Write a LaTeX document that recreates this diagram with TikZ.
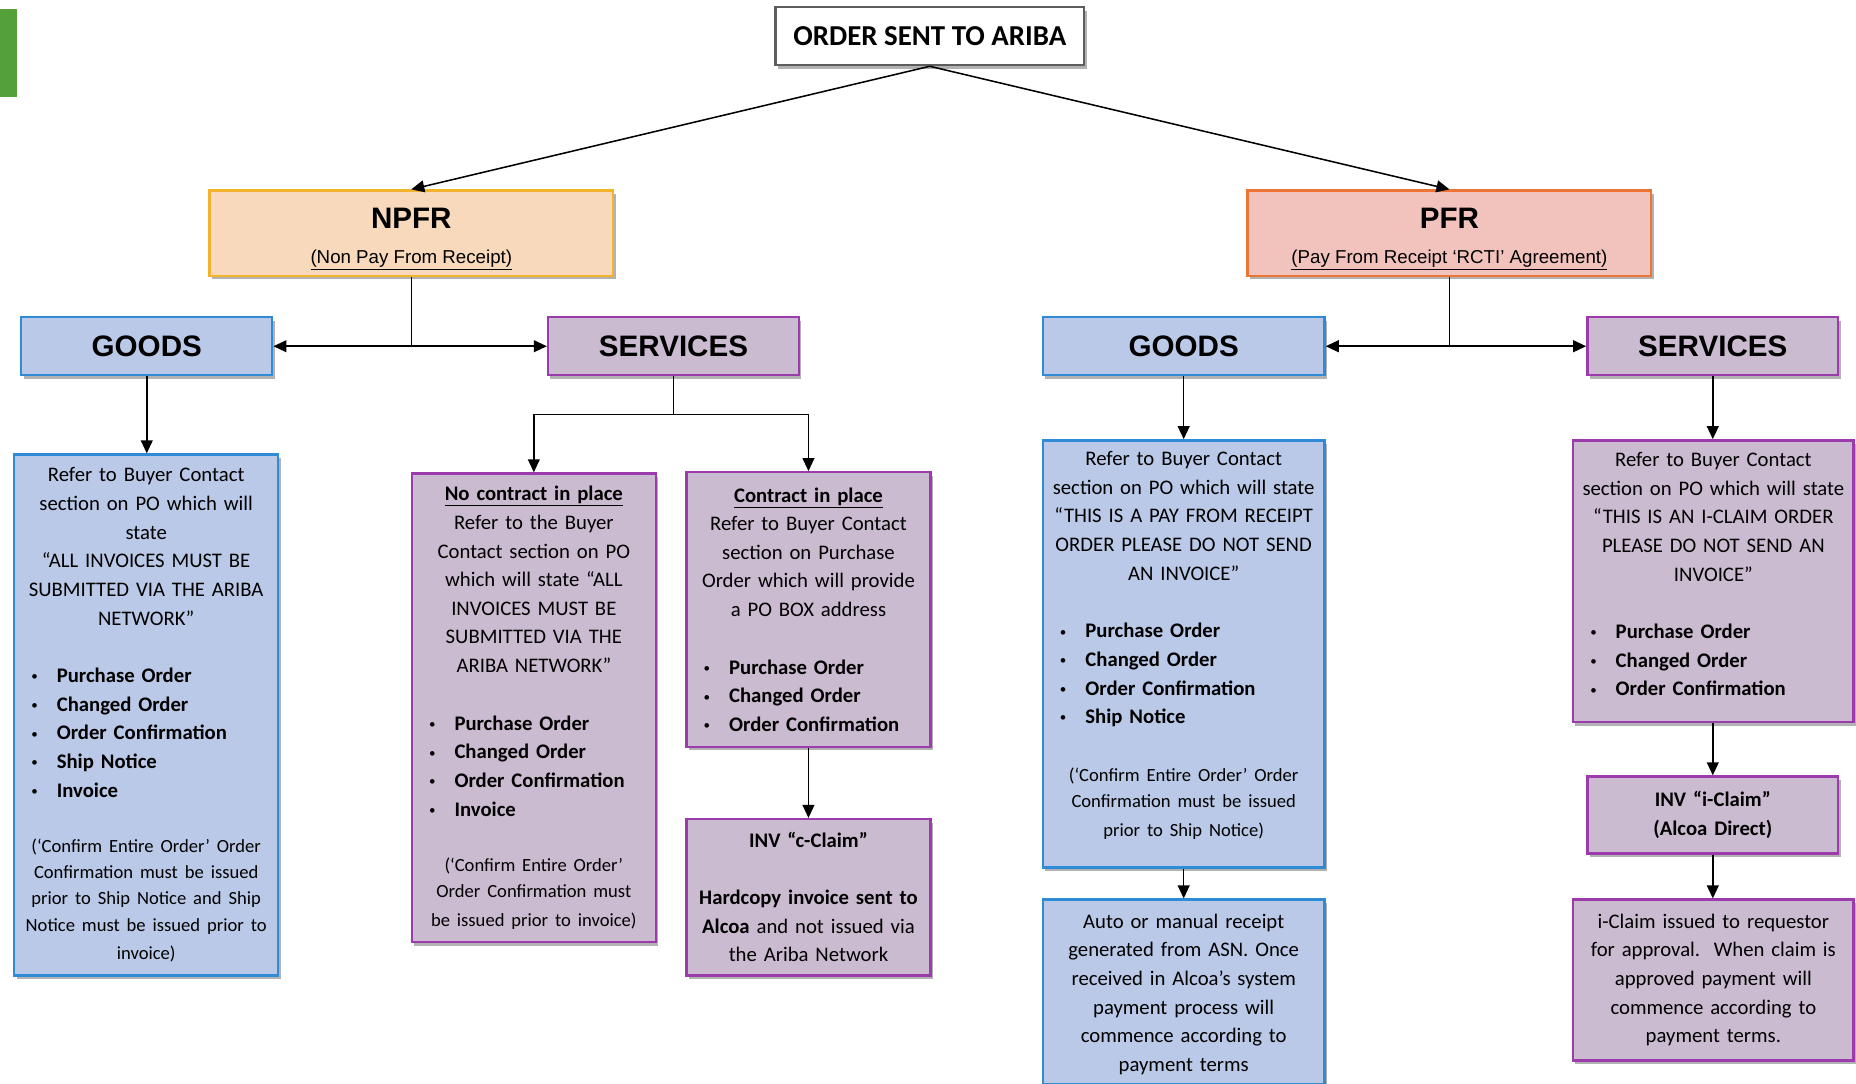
\documentclass[tikz,border=0pt]{standalone}
\usepackage{fontspec}
\setmainfont{Carlito}
\newfontfamily\headfont{Liberation Sans}
\usepackage{tikz}
\usetikzlibrary{arrows.meta,positioning,shadows,calc}

\definecolor{barGreen}{HTML}{54A03A}
\definecolor{npfrFill}{HTML}{F8D9BC}
\definecolor{npfrLine}{HTML}{F2B22E}
\definecolor{pfrFill}{HTML}{F2C3BC}
\definecolor{pfrLine}{HTML}{EC7434}
\definecolor{goodsFill}{HTML}{BAC9E7}
\definecolor{goodsLine}{HTML}{2F8BD6}
\definecolor{servFill}{HTML}{CBBBD0}
\definecolor{servLine}{HTML}{9B3BAC}
\definecolor{topLine}{HTML}{5E5E5E}

\newcommand{\bodytxt}{\fontsize{17.5}{24.2}\selectfont}
\newcommand{\smalltxt}{\fontsize{15.7}{22}\selectfont}
\newcommand{\itm}[1]{\makebox[\linewidth][l]{\hspace*{14.5pt}\makebox[21.5pt][l]{\raisebox{1.5pt}{\fontsize{11}{11}\selectfont\textbullet}}\textbf{#1}}}

\tikzset{
  box/.style={rectangle, draw, line width=2pt, inner sep=0pt, align=center,
    drop shadow={shadow xshift=2pt, shadow yshift=-3pt, fill=black, opacity=0.3}},
  goodsbox/.style={box, draw=goodsLine, fill=goodsFill},
  servbox/.style={box, draw=servLine, fill=servFill},
  headtxt/.style={font=\headfont\bfseries\fontsize{25}{30}\selectfont},
  link/.style={line width=1.3pt},
  arr/.style={link, -{Triangle[length=11pt,width=10pt]}},
}

\begin{document}
\begin{tikzpicture}[x=1pt, y=-1pt, font=\bodytxt]
  \useasboundingbox (0,0) rectangle (1568,915);
  \fill[barGreen] (0,7.6) rectangle (14.4,82);

  \node[box, draw=topLine, fill=white, minimum width=261pt, minimum height=49pt,
        font=\bfseries\fontsize{24.4}{29}\selectfont] (ariba) at (785.5,30.5) {ORDER SENT TO ARIBA};

  \node[box, draw=npfrLine, fill=npfrFill, minimum width=341pt, minimum height=72pt,
        font=\headfont\fontsize{15.8}{19}\selectfont] (npfr) at (347.5,197)
        {{\bfseries\fontsize{25}{30}\selectfont\rule{0pt}{27pt}NPFR}\\[10.5pt]\underline{(Non Pay From Receipt)}};
  \node[box, draw=pfrLine, fill=pfrFill, minimum width=341pt, minimum height=72pt,
        font=\headfont\fontsize{15.8}{19}\selectfont] (pfr) at (1224.5,197)
        {{\bfseries\fontsize{25}{30}\selectfont\rule{0pt}{27pt}PFR}\\[10.5pt]\underline{(Pay From Receipt ‘RCTI’ Agreement)}};

  \node[goodsbox, headtxt, minimum width=212pt, minimum height=49pt] (goodsL) at (124,292.5) {GOODS};
  \node[servbox, headtxt, minimum width=212pt, minimum height=49pt] (servL) at (569,292.5) {SERVICES};
  \node[goodsbox, headtxt, minimum width=238pt, minimum height=49pt] (goodsR) at (1000,292.5) {GOODS};
  \node[servbox, headtxt, minimum width=212pt, minimum height=49pt] (servR) at (1447,292.5) {SERVICES};

  % NPFR side
  \node[goodsbox, text width=223pt, minimum height=440pt] (goodsLtxt) at (123.5,604)
    {Refer to Buyer Contact\\
     section on PO which will\\
     state\\
     “ALL INVOICES MUST BE\\
     SUBMITTED VIA THE ARIBA\\
     NETWORK”\\[24.5pt]
     \itm{Purchase Order}\\
     \itm{Changed Order}\\
     \itm{Order Confirmation}\\
     \itm{Ship Notice}\\
     \itm{Invoice}\\[25pt]
     \smalltxt (‘Confirm Entire Order’ Order\\
     Confirmation must be issued\\
     prior to Ship Notice and Ship\\
     Notice must be issued prior to\\
     invoice)};
  \node[servbox, text width=206pt, minimum height=396pt] (nocon) at (451,598)
    {\textbf{\underline{No contract in place}}\\
     Refer to the Buyer\\
     Contact section on PO\\
     which will state “ALL\\
     INVOICES MUST BE\\
     SUBMITTED VIA THE\\
     ARIBA NETWORK”\\[24.5pt]
     \itm{Purchase Order}\\
     \itm{Changed Order}\\
     \itm{Order Confirmation}\\
     \itm{Invoice}\\[25pt]
     \smalltxt (‘Confirm Entire Order’\\
     Order Confirmation must\\
     be issued prior to invoice)};
  \node[servbox, text width=206pt, minimum height=232pt] (con) at (683,515)
    {\textbf{\underline{Contract in place}}\\
     Refer to Buyer Contact\\
     section on Purchase\\
     Order which will provide\\
     a PO BOX address\\[24.5pt]
     \itm{Purchase Order}\\
     \itm{Changed Order}\\
     \itm{Order Confirmation}};
  \node[servbox, text width=206pt, minimum height=132pt] (cClaim) at (683,758)
    {\textbf{INV “c-Claim”}\\[24pt]
     \textbf{Hardcopy invoice sent to}\\
     \textbf{Alcoa} and not issued via\\
     the Ariba Network};

  % PFR side
  \node[goodsbox, text width=238pt, minimum height=361pt] (goodsRtxt) at (1000,552.5)
    {Refer to Buyer Contact\\
     section on PO which will state\\
     “THIS IS A PAY FROM RECEIPT\\
     ORDER PLEASE DO NOT SEND\\
     AN INVOICE”\\[24.5pt]
     \itm{Purchase Order}\\
     \itm{Changed Order}\\
     \itm{Order Confirmation}\\
     \itm{Ship Notice}\\[27pt]
     \smalltxt (‘Confirm Entire Order’ Order\\
     Confirmation must be issued\\
     prior to Ship Notice)\rule[-17pt]{0pt}{0pt}};
  \node[goodsbox, text width=238pt, minimum height=156pt] (autoRcpt) at (1000,838)
    {\rule{0pt}{16pt}Auto or manual receipt\\
     generated from ASN. Once\\
     received in Alcoa’s system\\
     payment process will\\
     commence according to\\
     payment terms};
  \node[servbox, text width=237pt, minimum height=238pt] (servRtxt) at (1447.5,491)
    {Refer to Buyer Contact\\
     section on PO which will state\\
     “THIS IS AN I-CLAIM ORDER\\
     PLEASE DO NOT SEND AN\\
     INVOICE”\\[24.5pt]
     \itm{Purchase Order}\\
     \itm{Changed Order}\\
     \itm{Order Confirmation}\rule[-12pt]{0pt}{0pt}};
  \node[servbox, text width=212pt, minimum height=65pt] (iClaim) at (1447,688.5)
    {\textbf{INV “i-Claim”}\\
     \textbf{(Alcoa Direct)}};
  \node[servbox, text width=237pt, minimum height=136pt] (iIssued) at (1447.5,828)
    {i-Claim issued to requestor\\
     for approval.\ \ When claim is\\
     approved payment will\\
     commence according to\\
     payment terms.};

  \draw[arr] (ariba.south) -- (npfr.north);
  \draw[arr] (ariba.south) -- (pfr.north);

  \coordinate (npfrJ) at (npfr.south |- goodsL.east);
  \draw[link] (npfr.south) -- (npfrJ);
  \draw[arr] (npfrJ) -- (goodsL.east);
  \draw[arr] (npfrJ) -- (servL.west);
  \coordinate (pfrJ) at (pfr.south |- goodsR.east);
  \draw[link] (pfr.south) -- (pfrJ);
  \draw[arr] (pfrJ) -- (goodsR.east);
  \draw[arr] (pfrJ) -- (servR.west);

  \draw[arr] (goodsL.south) -- (goodsL.south |- goodsLtxt.north);
  \draw[link] (servL.south) -- ++(0,32) coordinate (servLJ);
  \draw[arr] (servLJ) -| (nocon.north);
  \draw[arr] (servLJ) -| (con.north);
  \draw[arr] (con.south) -- (cClaim.north);

  \draw[arr] (goodsR.south) -- (goodsRtxt.north);
  \draw[arr] (goodsRtxt.south) -- (autoRcpt.north);
  \draw[arr] (servR.south) -- (servR.south |- servRtxt.north);
  \draw[arr] (servRtxt.south -| iClaim.north) -- (iClaim.north);
  \draw[arr] (iClaim.south) -- (iClaim.south |- iIssued.north);
\end{tikzpicture}
\end{document}
